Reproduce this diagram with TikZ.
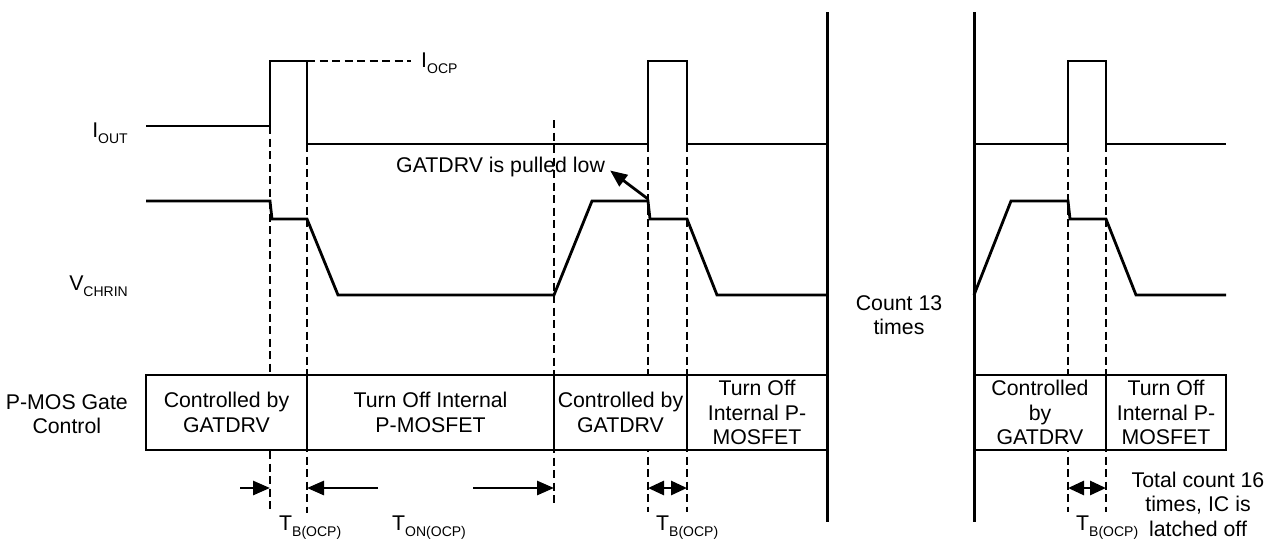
\documentclass[tikz,border=0pt]{standalone}
\usepackage{fontspec}
\setmainfont{Liberation Sans}
\usetikzlibrary{arrows.meta}

% signal name with a lowered subscript
\newcommand{\sigsub}[2]{#1\raisebox{-6pt}{\fontsize{14}{14}\selectfont #2}}

\begin{document}
\begin{tikzpicture}[x=1pt, y=-1pt, every node/.style={font=\fontsize{21.3}{24.5}\selectfont}]
  % -----------------------------
  % LEVELS (y grows downwards)
  % -----------------------------
  \def\yPk{61}    % I_OCP peak
  \def\yIa{126}   % I_OUT before first OCP
  \def\yIb{144}   % I_OUT after
  \def\yVh{201}   % V_CHRIN high
  \def\yVm{219}   % V_CHRIN step
  \def\yVl{295}   % V_CHRIN low
  \def\yAr{488}   % timing arrows

  % -----------------------------
  % STYLES
  % -----------------------------
  \tikzset{
    wave/.style={line width=2.8pt, line join=miter},
    guide/.style={line width=1.3pt, dash pattern=on 8pt off 4.5pt},
    wall/.style={line width=3pt},
    gatebox/.style={draw, line width=2.8pt, fill=white, align=center,
                    minimum height=75pt, inner sep=0pt},
    tarrow/.style={line width=2.8pt, -{Triangle[length=17pt,width=14pt]}},
    tboth/.style={line width=2.8pt, {Triangle[length=16pt,width=14pt]}-{Triangle[length=16pt,width=14pt]}},
    lab/.style={inner sep=0pt},
  }

  \useasboundingbox (0,0) rectangle (1278,539);

  % -----------------------------
  % DASHED TIME MARKERS
  % -----------------------------
  \foreach \x/\ya/\yb in {270/126/510, 307/144/513, 554/120/505, 648/144/512,
                          687/144/512, 1068/144/512, 1106/144/512} {
    \draw[guide] (\x,\ya) -- (\x,\yb);
  }
  \draw[guide] (307,\yPk) -- (411,\yPk);

  % -----------------------------
  % P-MOS GATE CONTROL ROW
  % -----------------------------
  \node[gatebox, minimum width=161pt] (g1) at (226.5,412.5) {Controlled by\\GATDRV};
  \node[gatebox, minimum width=247pt] (g2) at (430.5,412.5) {Turn Off Internal\\P-MOSFET};
  \node[gatebox, minimum width=133pt] (g3) at (620.5,412.5) {Controlled by\\GATDRV};
  \node[gatebox, minimum width=140pt] (g4) at (757,412.5) {Turn Off\\Internal P-\\MOSFET};
  \node[gatebox, minimum width=132pt] (g5) at (1040,412.5) {Controlled\\by\\GATDRV};
  \node[gatebox, minimum width=120pt] (g6) at (1166,412.5) {Turn Off\\Internal P-\\MOSFET};

  % -----------------------------
  % WAVEFORMS
  % -----------------------------
  % I_OUT
  \draw[wave] (146,\yIa) -- (270,\yIa) -- (270,\yPk) -- (307,\yPk) -- (307,\yIb)
    -- (648,\yIb) -- (648,\yPk) -- (687,\yPk) -- (687,\yIb) -- (827,\yIb);
  \draw[wave] (974,\yIb) -- (1068,\yIb) -- (1068,\yPk) -- (1106,\yPk) -- (1106,\yIb)
    -- (1226,\yIb);
  % V_CHRIN
  \draw[wave] (146,\yVh) -- (270,\yVh) -- (272,\yVm) -- (307,\yVm) -- (338,\yVl)
    -- (554,\yVl) -- (592,\yVh) -- (648,\yVh) -- (650,\yVm) -- (687,\yVm)
    -- (717,\yVl) -- (827,\yVl);
  \draw[wave] (974,\yVl) -- (1011,\yVh) -- (1068,\yVh) -- (1070,\yVm) -- (1106,\yVm)
    -- (1136,\yVl) -- (1226,\yVl);

  % break lines
  \draw[wall] (827,12) -- (827,522);
  \draw[wall] (974,12) -- (974,522);

  % -----------------------------
  % LABELS
  % -----------------------------
  \node[lab, anchor=base east] (iout) at (128,137) {\sigsub{I}{OUT}};
  \node[lab, anchor=base east] (vchrin) at (128,290) {\sigsub{V}{CHRIN}};
  \node[lab, anchor=base west] (iocp) at (421,67) {\sigsub{I}{OCP}};
  \node[lab, align=center, anchor=east] (pmos) at (128,414) {P-MOS Gate\\Control};
  \node[lab, anchor=base west] (pull) at (396,172) {GATDRV is pulled low};
  \node[lab, align=center] (cnt13) at (899,315) {Count 13\\times};
  \node[lab, align=center] (total) at (1198,504) {Total count 16\\times, IC is\\latched off};

  \node[lab, anchor=base west] (tb1) at (279,530) {\sigsub{T}{B(OCP)}};
  \node[lab, anchor=base west] (ton) at (392,530) {\sigsub{T}{ON(OCP)}};
  \node[lab, anchor=base west] (tb2) at (656,530) {\sigsub{T}{B(OCP)}};
  \node[lab, anchor=base west] (tb3) at (1076,530) {\sigsub{T}{B(OCP)}};

  % -----------------------------
  % TIMING ARROWS
  % -----------------------------
  \coordinate (kink) at (648,199);
  \draw[tarrow] (kink) -- ([shift={(5,4)}]pull.east);

  \coordinate (a1s) at (240,\yAr);  \coordinate (a1e) at (270,\yAr);
  \coordinate (a2s) at (378,\yAr);  \coordinate (a2e) at (307,\yAr);
  \coordinate (a3s) at (473,\yAr);  \coordinate (a3e) at (554,\yAr);
  \coordinate (b1s) at (648,\yAr);  \coordinate (b1e) at (687,\yAr);
  \coordinate (b2s) at (1068,\yAr); \coordinate (b2e) at (1106,\yAr);

  \draw[tarrow] (a1s) -- (a1e);
  \draw[tarrow] (a2s) -- (a2e);
  \draw[tarrow] (a3s) -- (a3e);
  \draw[tboth] (b1s) -- (b1e);
  \draw[tboth] (b2s) -- (b2e);
\end{tikzpicture}
\end{document}
